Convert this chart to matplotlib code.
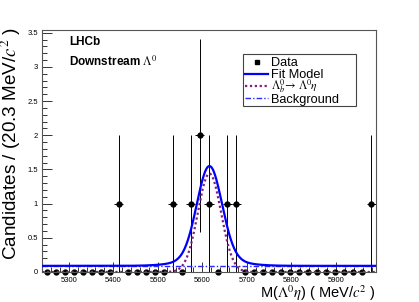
import numpy as np
import matplotlib
matplotlib.use("Agg")
import matplotlib.pyplot as plt
from matplotlib.lines import Line2D
from matplotlib.patches import Rectangle
from matplotlib.ticker import MultipleLocator

plt.rcParams['font.family'] = ['Liberation Sans', 'DejaVu Sans']
plt.rcParams['mathtext.fontset'] = 'stix'

W, H = 419, 302

# binning of the mass histogram
x_min, x_max = 5240.0, 5990.0
n_bins = 37

# candidates per bin
bin_counts = [0, 0, 0, 0, 0, 0, 0, 0, 1, 0,
              0, 0, 0, 0, 1, 0, 1, 2, 1, 0,
              1, 1, 0, 0, 0, 0, 0, 0, 0, 0,
              0, 0, 0, 0, 0, 0, 1]

# fit result (estimated from the drawn curves)
peak_mean = 5616.0
signal_sigma = 26.0
signal_peak = 1.44
model_core_sigma = 28.0
model_core_peak = 1.36
model_tail_sigma = 60.0
model_tail_peak = 0.10
bkg_level = 0.09

legend_labels = ["Data", "Fit Model", r"$\Lambda_{b}^{0}\!\rightarrow\,\Lambda^{0}\eta$", "Background"]

model_style = dict(color='#0000ff', lw=1.6)
signal_style = dict(color='#7f1f80', lw=1.6, ls=(0, (1, 1.2)))
bkg_style = dict(color='#2a2aff', lw=1.0, ls=(0, (4, 1.5, 1, 1.5)))


def fx(px):
    return px / W


def fy(py):
    return 1 - py / H


def main():
    edges = np.linspace(x_min, x_max, n_bins + 1)
    centers = 0.5 * (edges[:-1] + edges[1:])
    half_w = 0.5 * (edges[1] - edges[0])
    counts = np.array(bin_counts, dtype=float)
    yerr = np.sqrt(counts)

    xs = np.linspace(x_min, x_max, 800)
    signal = signal_peak * np.exp(-0.5 * ((xs - peak_mean) / signal_sigma) ** 2)
    model = (bkg_level
             + model_core_peak * np.exp(-0.5 * ((xs - peak_mean) / model_core_sigma) ** 2)
             + model_tail_peak * np.exp(-0.5 * ((xs - peak_mean) / model_tail_sigma) ** 2))
    bkg = np.full_like(xs, bkg_level)

    fig = plt.figure(figsize=(W / 100, H / 100), dpi=100)
    ax = fig.add_axes([fx(42), fy(272), 334 / W, 242 / H])

    ax.errorbar(centers, counts, yerr=yerr, xerr=half_w, fmt='o', color='black',
                ms=3.5, elinewidth=0.7, capsize=0, zorder=2, clip_on=False)
    ax.plot(xs, model, zorder=4, **model_style)
    ax.plot(xs, signal, zorder=3, **signal_style)
    ax.plot(xs, bkg, zorder=3, **bkg_style)

    ax.set_xlim(x_min, x_max)
    ax.set_ylim(0, 3.54)

    ax.xaxis.set_major_locator(MultipleLocator(100))
    ax.xaxis.set_minor_locator(MultipleLocator(20))
    ax.yaxis.set_major_locator(MultipleLocator(0.5))
    ax.yaxis.set_minor_locator(MultipleLocator(0.1))
    ax.yaxis.set_major_formatter(plt.FuncFormatter(lambda v, p: f"{v:g}"))
    ax.tick_params(which='both', direction='in', labelsize=5.5, color='#333333', width=0.7)
    ax.tick_params(which='major', length=7)
    ax.tick_params(which='minor', length=3.5)
    ax.tick_params(axis='x', pad=3.5)
    ax.tick_params(axis='y', pad=3)
    for s in ax.spines.values():
        s.set_color('#555555')
        s.set_linewidth(0.8)

    ax.set_xlabel(r"M($\Lambda^{0}\eta$) ( MeV/$c^{2}$ )", fontsize=10.5, loc='right', labelpad=-0.5)
    # y title drawn on the figure, top-aligned like ROOT
    fig.text(fx(11), fy(27), r"Candidates / (20.3 MeV/$c^{2}$ )", fontsize=13.6,
             rotation=90, ha='center', va='top')

    ax.text(0.081, 0.951, "LHCb", transform=ax.transAxes, fontsize=8.5,
            fontweight='bold', va='center', ha='left')
    ax.text(0.081, 0.868, r"Downstream $\Lambda^{0}$", transform=ax.transAxes,
            fontsize=8.5, fontweight='bold', va='center', ha='left')

    # legend box, laid out by hand
    fig.patches.append(Rectangle((fx(243), fy(106)), 113 / W, 52 / H, transform=fig.transFigure,
                                 facecolor='white', edgecolor='#444444', lw=0.8, zorder=5))
    rows = [62, 74, 86, 98]
    fig.lines.append(Line2D([fx(256.5)], [fy(rows[0])], color='black', marker='s', ms=3,
                            ls='none', transform=fig.transFigure, zorder=6))
    for style, row in zip([model_style, signal_style, bkg_style], rows[1:]):
        fig.lines.append(Line2D([fx(245), fx(268)], [fy(row), fy(row)],
                                transform=fig.transFigure, zorder=6, **style))
    for label, row in zip(legend_labels, rows):
        is_math = '$' in label
        fig.text(fx(271), fy(row), label, fontsize=8.4 if is_math else 9.2, ha='left',
                 va='center' if is_math else 'center_baseline', zorder=7)

    fig.savefig("out.png", dpi=100, facecolor='white')


if __name__ == "__main__":
    main()
